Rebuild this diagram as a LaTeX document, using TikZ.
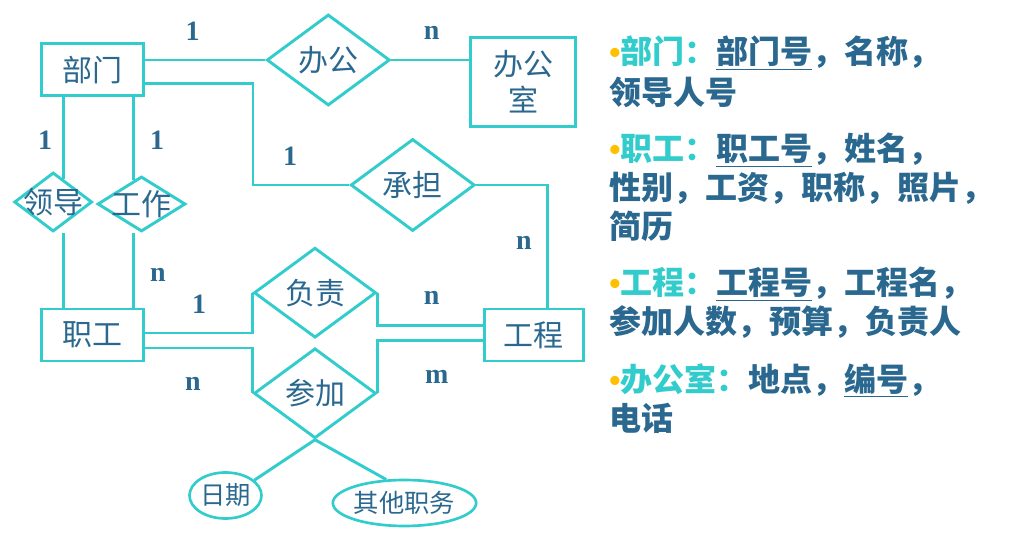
\documentclass[tikz,border=0pt]{standalone}
\usepackage{fontspec}
\usepackage{xcolor}
\usepackage{tikz}
\usetikzlibrary{calc,shapes.geometric}
\setmainfont{Liberation Serif}
\newfontfamily\cjk{Noto Sans CJK SC}
\newfontfamily\bulletfont{Liberation Sans}
\definecolor{ERTeal}{HTML}{33CCCC}
\definecolor{ERBlue}{HTML}{2A6890}
\definecolor{ERGold}{HTML}{FFC000}
\newcommand\erhead[1]{{\bulletfont\textcolor{ERGold}{•}}\textcolor{ERTeal}{#1：}}

\begin{document}
\begin{tikzpicture}[x=0.75pt,y=-0.75pt,
  entity/.style={draw=ERTeal,line width=2.2pt,minimum width=76.5pt,minimum height=39pt,
    inner sep=0pt,text=ERBlue,font=\cjk\fontsize{22.5}{27}\selectfont},
  relation/.style={diamond,draw=ERTeal,line width=2.2pt,minimum width=91.5pt,minimum height=67.5pt,
    inner sep=0pt,label={[text=ERBlue,font=\cjk\fontsize{22.5}{27}\selectfont]center:#1}},
  attribute/.style={ellipse,draw=ERTeal,line width=2pt,minimum width=54pt,minimum height=34.5pt,
    inner sep=0pt,text=ERBlue,font=\cjk\fontsize{19}{22}\selectfont},
  link/.style={draw=ERTeal,line width=2.2pt},
  card/.style={text=ERBlue,inner sep=0pt,font=\bfseries\fontsize{21}{21}\selectfont},
  infoline/.style={anchor=west,inner sep=0pt,text=ERBlue,font=\cjk\bfseries\fontsize{24}{28}\selectfont}]
  \useasboundingbox (0,0) rectangle (1011,534);
  % entities
  \node[entity] (dept) at (92.5,69.7) {部门};
  \node[entity,minimum width=78.75pt,minimum height=66.75pt,align=center] (office) at (523.3,82) {办公\\室};
  \node[entity] (staff) at (92.5,335) {职工};
  \node[entity,minimum width=74.25pt] (project) at (533.7,335) {工程};
  % relations
  \node[relation=办公,minimum width=92.25pt,minimum height=68.25pt] (bangong) at (328.3,60) {};
  \node[relation=承担,minimum width=93pt,minimum height=69pt] (chengdan) at (412.7,185) {};
  \node[relation=领导,minimum width=58.5pt,minimum height=44.25pt] (lead) at (53.2,202) {};
  \node[relation=工作,minimum width=66pt,minimum height=41.25pt] (work) at (141.5,204) {};
  \node[relation=负责] (fuze) at (315,292.7) {};
  \node[relation=参加] (canjia) at (315,393.3) {};
  % attributes
  \node[attribute] (date) at (225.5,495.5) {日期};
  \node[attribute,minimum width=102pt] (other) at (404.5,503) {其他职务};
  \coordinate (leadpin) at ($(lead.north)+(10,0)$);
  \coordinate (workpin) at ($(work.north)+(-8,0)$);
  % connectors
  \draw[link] (dept.east |- bangong.west) -- (bangong.west);
  \draw[link] (bangong.east) -- (office.west |- bangong.east);
  \draw[link] ($(dept.east)+(0,13.6)$) -- ++(108,0) |- (chengdan.west);
  \draw[link] (chengdan.east) -| ($(project.north)+(13.6,0)$);
  \draw[link] (dept.south -| leadpin) -- ($(leadpin)+(0,7.5)$);
  \draw[link] (lead.south -| leadpin) -- (staff.north -| leadpin);
  \draw[link] (dept.south -| workpin) -- ($(workpin)+(0,5)$);
  \draw[link] (work.south -| workpin) -- (staff.north -| workpin);
  \draw[link] ($(staff.east)+(0,-2)$) -| (fuze.west);
  \draw[link] ($(staff.east)+(0,13)$) -| (canjia.west);
  \draw[link] (fuze.east) |- ($(project.west)+(0,-9.3)$);
  \draw[link] (canjia.east) |- ($(project.west)+(0,5.7)$);
  \draw[link] (canjia.south) -- (date.28);
  \draw[link] (canjia.south) -- (other.128);
  % cardinalities
  \node[card] (cDeptBg) at (192.7,31.7) {1};
  \node[card] (cOfficeBg) at (431.7,33.3) {n};
  \node[card] (cDeptLead) at (45,140) {1};
  \node[card] (cDeptWork) at (157,140) {1};
  \node[card] (cDeptCd) at (290,156.7) {1};
  \node[card] (cProjCd) at (524,243.3) {n};
  \node[card] (cStaffWork) at (158,275) {n};
  \node[card] (cStaffFz) at (199,304) {1};
  \node[card] (cProjFz) at (431.7,298.3) {n};
  \node[card] (cStaffCj) at (193,384) {n};
  \node[card] (cProjCj) at (436.7,376.7) {m};
  % attribute list
  \node[infoline] (deptA) at (609,53) {\erhead{部门}\underline{部门号}，名称，};
  \node[infoline] (deptB) at (609,92.5) {领导人号};
  \node[infoline] (staffA) at (609,150) {\erhead{职工}\underline{职工号}，姓名，};
  \node[infoline] (staffB) at (609,188) {性别，工资，职称，照片，};
  \node[infoline] (staffC) at (609,226) {简历};
  \node[infoline] (projA) at (609,284) {\erhead{工程}\underline{工程号}，工程名，};
  \node[infoline] (projB) at (609,322) {参加人数，预算，负责人};
  \node[infoline] (officeA) at (609,380) {\erhead{办公室}地点，\underline{编号}，};
  \node[infoline] (officeB) at (609,418) {电话};
\end{tikzpicture}
\end{document}
